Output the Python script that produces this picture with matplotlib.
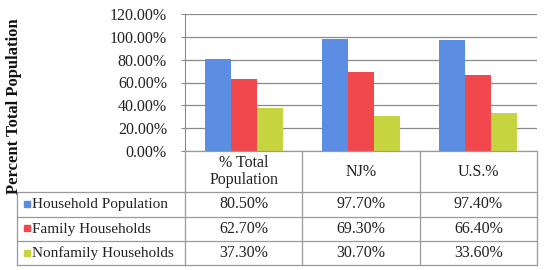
import numpy as np
import matplotlib
matplotlib.use('Agg')
import matplotlib.pyplot as plt
from matplotlib.transforms import blended_transform_factory
from matplotlib.lines import Line2D

categories = ['% Total\nPopulation', 'NJ%', 'U.S.%']
series = ['Household Population', 'Family Households', 'Nonfamily Households']
household = [80.5, 97.7, 97.4]
family = [62.7, 69.3, 66.4]
nonfamily = [37.3, 30.7, 33.6]
yticks = [0, 20, 40, 60, 80, 100, 120]

colors = ['#5b8de2', '#f1484d', '#c6d43f']
values = [household, family, nonfamily]

plt.rcParams['font.family'] = ['Liberation Serif', 'DejaVu Serif']
fs = 11.5

W, H = 547, 270
fig = plt.figure(figsize=(W / 100, H / 100), dpi=100)

# plot area in pixels
ax_l, ax_r, ax_t, ax_b = 185, 537, 14, 151
ax = fig.add_axes([ax_l / W, 1 - ax_b / H, (ax_r - ax_l) / W, (ax_b - ax_t) / H])

x = np.arange(len(categories))
bw = 0.222
for i, (vals, c) in enumerate(zip(values, colors)):
    ax.bar(x + (i - 1) * bw, vals, width=bw, color=c, zorder=3)

ax.set_xlim(-0.5, len(categories) - 0.5)
ax.set_ylim(0, 120)
ax.set_yticks(yticks)
ax.set_yticklabels([f'{v:.2f}%' for v in yticks], fontsize=fs, color='#222222')
ax.set_xticks([])
ax.grid(axis='y', color='#8a8a8a', linewidth=0.9, zorder=0)
ax.tick_params(axis='y', length=3, color='#8a8a8a', pad=10)
for s in ['top', 'right', 'bottom']:
    ax.spines[s].set_visible(False)
ax.spines['left'].set_color('#8a8a8a')

fig.text(14 / W, 1 - 106 / H, 'Percent Total Population', rotation=90,
         ha='center', va='center', fontsize=12, fontweight='bold', color='#111111')

# data table under the axis
trans = blended_transform_factory(ax.transData, fig.transFigure)
fx = lambda px: px / W
fy = lambda py: 1 - py / H
line_c = '#9a9a9a'
rows_y = [151, 192, 217, 241, 265]
col_edges = [-0.5, 0.5, 1.5, 2.5]
left_px = 17

def hline(py, x0_px=None):
    if x0_px is not None:
        fig.add_artist(Line2D([fx(x0_px), fx(ax_l)], [fy(py)] * 2, transform=fig.transFigure,
                              color=line_c, lw=0.9))
    fig.add_artist(Line2D([-0.5, 2.5], [fy(py)] * 2, transform=trans, color=line_c, lw=0.9))

hline(rows_y[0])
for py in rows_y[1:]:
    hline(py, left_px)
for ce in col_edges:
    fig.add_artist(Line2D([ce, ce], [fy(rows_y[0]), fy(rows_y[-1])], transform=trans,
                          color=line_c, lw=0.9))
fig.add_artist(Line2D([fx(left_px)] * 2, [fy(rows_y[1]), fy(rows_y[-1])],
                      transform=fig.transFigure, color=line_c, lw=0.9))

for xi, cat in zip(x, categories):
    fig.text(xi, fy((rows_y[0] + rows_y[1]) / 2), cat, transform=trans, ha='center',
             va='center', fontsize=fs, linespacing=1.1, color='#222222')

for r, (name, vals, c) in enumerate(zip(series, values, colors)):
    yc = fy((rows_y[r + 1] + rows_y[r + 2]) / 2)
    fig.patches.append(plt.Rectangle((fx(24), yc - 2.5 / H), 6 / W, 6 / H,
                                     transform=fig.transFigure, color=c))
    fig.text(fx(32), yc, name, ha='left', va='center', fontsize=11, color='#222222')
    for xi, v in zip(x, vals):
        fig.text(xi, yc, f'{v:.2f}%', transform=trans, ha='center', va='center',
                 fontsize=fs, color='#222222')

fig.savefig('out.png', dpi=100)
